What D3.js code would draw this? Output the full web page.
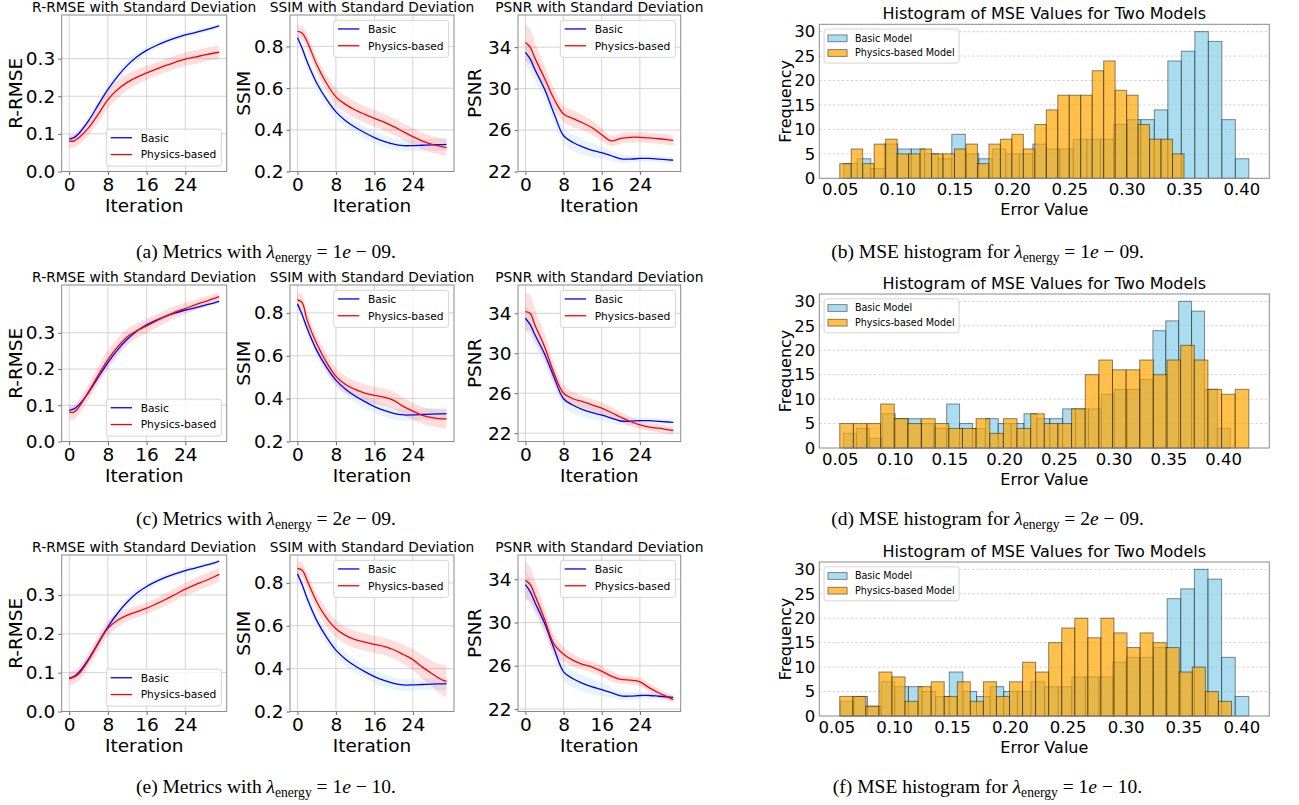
<!DOCTYPE html>
<html><head><meta charset="utf-8">
<script src="https://cdn.jsdelivr.net/npm/d3@7"></script>
<style>
body{margin:0;background:#fff;}
svg{display:block;}
text{font-family:"DejaVu Sans",sans-serif;fill:#000;}
</style>
</head><body>
<svg id="c" width="1299" height="805"></svg>
<script>
// ---------------- DATA ----------------
const iterations = [0,1,2,4,6,8,10,12,14,16,18,20,22,24,26,28,30,31];
const iterTicks = [0,8,16,24];
const rrmseTicks = [0,0.1,0.2,0.3];
const ssimTicks = [0.2,0.4,0.6,0.8];
const psnrTicks = [22,26,30,34];
const seriesNames = ["Basic","Physics-based"];

const basicRRMSE    = [0.086,0.090,0.101,0.135,0.177,0.218,0.253,0.282,0.305,0.322,0.335,0.346,0.355,0.363,0.369,0.376,0.383,0.387];
const basicRRMSEStd = [0.008,0.008,0.009,0.010,0.011,0.012,0.012,0.011,0.010,0.009,0.008,0.008,0.007,0.007,0.007,0.006,0.006,0.006];
const basicSSIM     = [0.842,0.790,0.728,0.625,0.548,0.486,0.444,0.412,0.386,0.363,0.345,0.331,0.324,0.324,0.326,0.328,0.329,0.330];
const basicSSIMStd  = [0.020,0.022,0.025,0.028,0.030,0.030,0.030,0.030,0.030,0.030,0.030,0.028,0.027,0.027,0.027,0.028,0.030,0.030];
const basicPSNR     = [33.5,32.86,31.85,29.95,27.6,25.45,24.8,24.37,24.05,23.81,23.52,23.22,23.20,23.26,23.26,23.19,23.12,23.09];
const basicPSNRStd  = [1.3,1.2,1.1,1.0,0.9,0.8,0.8,0.75,0.7,0.6,0.5,0.4,0.35,0.3,0.3,0.3,0.3,0.3];

// (a) lambda = 1e-09
const physRRMSE_a    = [0.081,0.081,0.090,0.116,0.152,0.191,0.218,0.237,0.251,0.262,0.272,0.282,0.291,0.299,0.304,0.310,0.315,0.317];
const physRRMSEStd_a = [0.018,0.018,0.019,0.020,0.022,0.024,0.024,0.022,0.020,0.019,0.018,0.018,0.018,0.018,0.018,0.018,0.018,0.018];
const physSSIM_a     = [0.872,0.864,0.824,0.713,0.625,0.558,0.522,0.495,0.474,0.455,0.437,0.415,0.391,0.367,0.346,0.330,0.319,0.315];
const physSSIMStd_a  = [0.035,0.035,0.036,0.038,0.040,0.040,0.040,0.040,0.040,0.040,0.040,0.040,0.040,0.040,0.040,0.040,0.040,0.040];
const physPSNR_a     = [34.45,34.0,32.94,31.02,29.0,27.55,27.1,26.7,26.22,25.55,24.95,25.2,25.3,25.3,25.24,25.16,25.06,25.0];
const physPSNRStd_a  = [1.8,1.7,1.5,1.2,1.0,0.8,0.8,0.7,0.7,0.6,0.5,0.5,0.5,0.5,0.5,0.5,0.5,0.5];
// (c) lambda = 2e-09
const physRRMSE_c    = [0.081,0.081,0.095,0.137,0.183,0.226,0.261,0.289,0.306,0.319,0.333,0.346,0.358,0.367,0.377,0.386,0.395,0.400];
const physRRMSEStd_c = [0.020,0.020,0.021,0.022,0.025,0.026,0.025,0.023,0.020,0.020,0.019,0.018,0.017,0.016,0.015,0.014,0.013,0.013];
const physSSIM_c     = [0.862,0.847,0.766,0.657,0.571,0.504,0.466,0.443,0.426,0.415,0.407,0.392,0.364,0.342,0.322,0.311,0.306,0.306];
const physSSIMStd_c  = [0.035,0.035,0.036,0.038,0.040,0.040,0.040,0.040,0.040,0.040,0.040,0.040,0.040,0.040,0.040,0.040,0.045,0.045];
const physPSNR_c     = [34.17,34.0,32.83,30.67,28.0,26.0,25.45,25.15,24.83,24.5,24.07,23.6,23.17,22.83,22.6,22.5,22.33,22.27];
const physPSNRStd_c  = [1.9,1.8,1.6,1.3,1.0,0.8,0.7,0.6,0.6,0.6,0.6,0.5,0.5,0.4,0.4,0.4,0.4,0.4];
// (e) lambda = 1e-10
const physRRMSE_e    = [0.084,0.089,0.097,0.132,0.175,0.214,0.235,0.248,0.257,0.266,0.277,0.289,0.302,0.315,0.326,0.336,0.347,0.353];
const physRRMSEStd_e = [0.018,0.018,0.018,0.019,0.020,0.020,0.018,0.016,0.015,0.015,0.015,0.016,0.016,0.017,0.018,0.018,0.018,0.018];
const physSSIM_e     = [0.867,0.859,0.812,0.711,0.638,0.586,0.555,0.535,0.524,0.513,0.504,0.488,0.466,0.442,0.407,0.376,0.348,0.340];
const physSSIMStd_e  = [0.035,0.035,0.037,0.040,0.040,0.040,0.040,0.040,0.040,0.040,0.040,0.042,0.045,0.050,0.055,0.060,0.070,0.075];
const physPSNR_e     = [33.9,33.53,32.51,30.33,28.0,27.07,26.51,26.14,25.89,25.51,25.05,24.74,24.67,24.52,23.96,23.49,23.09,22.87];
const physPSNRStd_e  = [1.7,1.6,1.4,1.1,0.9,0.7,0.6,0.5,0.5,0.5,0.5,0.4,0.4,0.4,0.4,0.4,0.3,0.3];

// axis limits per row
const yLimRRMSE = [[0,0.416],[0,0.432],[0,0.403]];
const yLimSSIM  = [[0.2,0.951],[0.2,0.93],[0.2,0.93]];
const yLimPSNR  = [[22,37.1],[21.17,36.83],[21.78,36.24]];

// histograms (30 bins each)
const histNames = ["Basic Model","Physics-based Model"];
const basicCounts = [3,4,2,7,6,6,5,4,9,5,4,6,5,5,7,6,6,8,8,8,11,12,12,14,24,26,30,28,12,4];
const basicRange  = [0.0535,0.4065];
const physCounts_b = [3,6,3,7,8,5,5,6,5,5,6,7,3,7,8,9,6,11,14,17,17,17,22,24,18,17,11,8,8,5];
const physRange_b  = [0.05,0.35];
const physCounts_d = [5,5,5,9,6,5,6,5,4,4,6,3,6,4,7,5,5,8,15,18,16,16,18,15,18,21,18,12,11,12];
const physRange_d  = [0.05,0.4235];
const physCounts_f = [4,4,2,9,8,3,6,7,4,7,3,7,4,7,11,9,15,18,20,16,20,17,14,17,15,14,9,10,5,3];
const physRange_f  = [0.053,0.3915];
const histXTicks = [0.05,0.10,0.15,0.20,0.25,0.30,0.35,0.40];
const histYTicks = [0,5,10,15,20,25,30];

const captionLetters = ["(a)","(b)","(c)","(d)","(e)","(f)"];
const lambdaMant = ["1","2","1"];
const lambdaExp  = ["09","09","10"];

// ---------------- DRAW ----------------
const svg = d3.select("#c");
const defs = svg.append("defs");
let clipId = 0;

const colX = [61.7, 290, 518], colW = [165, 164, 162.7];
const rowTop = [15, 285, 555], panelH = 156.5;
const curve = d3.curveCatmullRom.alpha(0.5);

function linePanel(px, py, pw, ph, title, ylabel, ylabOff, ydom, yticks, yfmt, series, legendPos) {
  const g = svg.append("g").attr("transform", `translate(${px},${py})`);
  const x = d3.scaleLinear().domain([-1.55, 32.55]).range([0, pw]);
  const y = d3.scaleLinear().domain(ydom).range([ph, 0]);
  const id = "clip" + (clipId++);
  defs.append("clipPath").attr("id", id).append("rect").attr("width", pw).attr("height", ph);

  g.selectAll(".gx").data(iterTicks).join("line")
    .attr("x1", d => x(d)).attr("x2", d => x(d)).attr("y1", 0).attr("y2", ph)
    .attr("stroke", "#cfcfcf").attr("stroke-width", 0.9);
  g.selectAll(".gy").data(yticks).join("line")
    .attr("x1", 0).attr("x2", pw).attr("y1", d => y(d)).attr("y2", d => y(d))
    .attr("stroke", "#cfcfcf").attr("stroke-width", 0.9);

  const plot = g.append("g").attr("clip-path", `url(#${id})`);
  series.forEach(s => {
    const area = d3.area()
      .x((d, i) => x(iterations[i]))
      .y0((d, i) => y(d - s.std[i]))
      .y1((d, i) => y(d + s.std[i]))
      .curve(curve);
    plot.append("path").datum(s.mean).attr("d", area)
      .attr("fill", s.band).attr("fill-opacity", s.bandOp);
  });
  series.forEach(s => {
    const line = d3.line().x((d, i) => x(iterations[i])).y(d => y(d)).curve(curve);
    plot.append("path").datum(s.mean).attr("d", line)
      .attr("fill", "none").attr("stroke", s.color).attr("stroke-width", 1.3);
  });

  const xa = g.append("g").attr("transform", `translate(0,${ph})`)
    .call(d3.axisBottom(x).tickValues(iterTicks).tickSize(3.5).tickPadding(3));
  const ya = g.append("g")
    .call(d3.axisLeft(y).tickValues(yticks).tickFormat(yfmt).tickSize(3.5).tickPadding(3));
  [xa, ya].forEach(a => {
    a.select(".domain").remove();
    a.selectAll(".tick line").attr("stroke", "#444").attr("stroke-width", 0.8);
    a.selectAll(".tick text").style("font-family", "DejaVu Sans").style("font-size", "18.5px").attr("fill", "#000");
  });
  g.append("rect").attr("width", pw).attr("height", ph).attr("fill", "none")
    .attr("stroke", "#8a8a8a").attr("stroke-width", 1);

  g.append("text").attr("x", pw / 2).attr("y", -3.5).attr("text-anchor", "middle")
    .style("font-size", "13.8px").text(title);
  g.append("text").attr("x", pw / 2).attr("y", ph + 40.5).attr("text-anchor", "middle")
    .style("font-size", "18.5px").text("Iteration");
  g.append("text").attr("transform", `translate(${ylabOff},${ph / 2}) rotate(-90)`)
    .attr("text-anchor", "middle").attr("dy", "0.35em")
    .style("font-size", "18.5px").text(ylabel);

  const fs = 10.7, lw = 115, lh = 37;
  const lx = pw - 5.35 - lw;
  const ly = legendPos === "lower right" ? ph - 5.35 - lh : 5.35;
  const lg = g.append("g").attr("transform", `translate(${lx},${ly})`);
  lg.append("rect").attr("width", lw).attr("height", lh).attr("rx", 2.5)
    .attr("fill", "#fff").attr("fill-opacity", 0.8).attr("stroke", "#d0d0d0").attr("stroke-width", 0.9);
  series.forEach((s, i) => {
    const cy = 8.6 + i * 16.8;
    lg.append("line").attr("x1", 4.3).attr("x2", 25.7).attr("y1", cy).attr("y2", cy)
      .attr("stroke", s.color).attr("stroke-width", 1.3);
    lg.append("text").attr("x", 34.3).attr("y", cy).attr("dy", "0.36em")
      .style("font-size", fs + "px").text(s.name);
  });
}

const blueBand = "#add8e6", redBand = "#ff0000";
function mk(meanB, stdB, meanP, stdP) {
  return [
    {name: seriesNames[0], mean: meanB, std: stdB, color: "#0000ff", band: blueBand, bandOp: 0.28},
    {name: seriesNames[1], mean: meanP, std: stdP, color: "#ff0000", band: redBand, bandOp: 0.13}
  ];
}
const physByRow = [
  [physRRMSE_a, physRRMSEStd_a, physSSIM_a, physSSIMStd_a, physPSNR_a, physPSNRStd_a],
  [physRRMSE_c, physRRMSEStd_c, physSSIM_c, physSSIMStd_c, physPSNR_c, physPSNRStd_c],
  [physRRMSE_e, physRRMSEStd_e, physSSIM_e, physSSIMStd_e, physPSNR_e, physPSNRStd_e]
];
const fmt1 = d3.format(".1f"), fmt0 = d3.format("d");
for (let r = 0; r < 3; r++) {
  const p = physByRow[r];
  linePanel(colX[0], rowTop[r], colW[0], panelH, "R-RMSE with Standard Deviation", "R-RMSE", -46,
    yLimRRMSE[r], rrmseTicks, fmt1, mk(basicRRMSE, basicRRMSEStd, p[0], p[1]), "lower right");
  linePanel(colX[1], rowTop[r], colW[1], panelH, "SSIM with Standard Deviation", "SSIM", -46.5,
    yLimSSIM[r], ssimTicks, fmt1, mk(basicSSIM, basicSSIMStd, p[2], p[3]), "upper right");
  linePanel(colX[2], rowTop[r], colW[2], panelH, "PSNR with Standard Deviation", "PSNR", -43,
    yLimPSNR[r], psnrTicks, fmt0, mk(basicPSNR, basicPSNRStd, p[4], p[5]), "upper right");
}

// histograms
const histTop = [24.3, 294, 562], histX = 819.3, histW = 450, histH = 154;
function histPanel(py, physCounts, physRange) {
  const g = svg.append("g").attr("transform", `translate(${histX},${py})`);
  const lo = Math.min(basicRange[0], physRange[0]), hi = Math.max(basicRange[1], physRange[1]);
  const pad = (hi - lo) * 0.05;
  const x = d3.scaleLinear().domain([lo - pad, hi + pad]).range([0, histW]);
  const ymax = d3.max(basicCounts.concat(physCounts));
  const y = d3.scaleLinear().domain([0, ymax * 1.05]).range([histH, 0]);

  g.selectAll(".gy").data(histYTicks.slice(1)).join("line")
    .attr("x1", 0).attr("x2", histW).attr("y1", d => y(d)).attr("y2", d => y(d))
    .attr("stroke", "#c8c8c8").attr("stroke-width", 0.8).attr("stroke-dasharray", "2.5,2");

  const sets = [
    {counts: basicCounts, range: basicRange, color: "#87ceeb"},
    {counts: physCounts, range: physRange, color: "#ffa500"}
  ];
  sets.forEach(s => {
    const n = s.counts.length, w = (s.range[1] - s.range[0]) / n;
    g.append("g").selectAll("rect").data(s.counts).join("rect")
      .attr("x", (d, i) => x(s.range[0] + i * w))
      .attr("width", (d, i) => x(s.range[0] + (i + 1) * w) - x(s.range[0] + i * w))
      .attr("y", d => y(d)).attr("height", d => histH - y(d))
      .attr("fill", s.color).attr("fill-opacity", 0.7)
      .attr("stroke", "#000").attr("stroke-opacity", 0.45).attr("stroke-width", 1);
  });

  const xa = g.append("g").attr("transform", `translate(0,${histH})`)
    .call(d3.axisBottom(x).tickValues(histXTicks).tickFormat(d3.format(".2f")).tickSize(0).tickPadding(5));
  const ya = g.append("g")
    .call(d3.axisLeft(y).tickValues(histYTicks).tickFormat(d3.format("d")).tickSize(0).tickPadding(4));
  [xa, ya].forEach(a => {
    a.select(".domain").remove();
    a.selectAll(".tick text").style("font-family", "DejaVu Sans").style("font-size", "16.5px").attr("fill", "#000");
  });
  g.append("rect").attr("width", histW).attr("height", histH).attr("fill", "none")
    .attr("stroke", "#8a8a8a").attr("stroke-width", 1);

  g.append("text").attr("x", histW / 2).attr("y", -5.5).attr("text-anchor", "middle")
    .style("font-size", "16px").text("Histogram of MSE Values for Two Models");
  g.append("text").attr("x", histW / 2).attr("y", histH + 37).attr("text-anchor", "middle")
    .style("font-size", "16px").text("Error Value");
  g.append("text").attr("transform", `translate(-34.3,${histH / 2}) rotate(-90)`)
    .attr("text-anchor", "middle").attr("dy", "0.35em")
    .style("font-size", "16px").text("Frequency");

  const lg = g.append("g").attr("transform", "translate(4.8,4.8)");
  lg.append("rect").attr("width", 135).attr("height", 34).attr("rx", 2.5)
    .attr("fill", "#fff").attr("fill-opacity", 0.8).attr("stroke", "#d0d0d0").attr("stroke-width", 0.9);
  sets.forEach((s, i) => {
    const cy = 9.2 + i * 14.7;
    lg.append("rect").attr("x", 3.8).attr("y", cy - 3.4).attr("width", 19.2).attr("height", 6.8)
      .attr("fill", s.color).attr("fill-opacity", 0.7)
      .attr("stroke", "#000").attr("stroke-opacity", 0.45).attr("stroke-width", 1);
    lg.append("text").attr("x", 30.8).attr("y", cy).attr("dy", "0.36em")
      .style("font-size", "9.6px").text(histNames[i]);
  });
}
histPanel(histTop[0], physCounts_b, physRange_b);
histPanel(histTop[1], physCounts_d, physRange_d);
histPanel(histTop[2], physCounts_f, physRange_f);

// captions
const capY = [258, 525, 793];
function caption(cx, cy, prefix, mant, expo) {
  const t = svg.append("text").attr("x", cx).attr("y", cy).attr("text-anchor", "middle")
    .style("font-family", "'Liberation Serif', 'DejaVu Serif', serif").style("font-size", "19.5px");
  t.append("tspan").text(prefix + " ");
  t.append("tspan").style("font-style", "italic").text("λ");
  t.append("tspan").attr("dy", 4).style("font-size", "13.6px").text("energy");
  t.append("tspan").attr("dy", -4).text(" = " + mant);
  t.append("tspan").style("font-style", "italic").text("e");
  t.append("tspan").text(" − " + expo + ".");
}
for (let r = 0; r < 3; r++) {
  caption(266, capY[r], captionLetters[2 * r] + " Metrics with", lambdaMant[r], lambdaExp[r]);
  caption(987.5, capY[r], captionLetters[2 * r + 1] + " MSE histogram for", lambdaMant[r], lambdaExp[r]);
}
</script>
</body></html>
